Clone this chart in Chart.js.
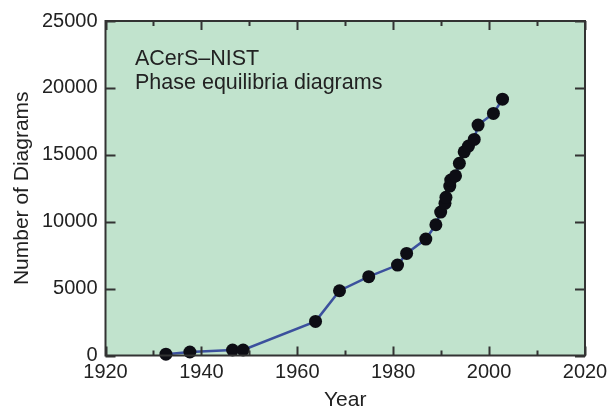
<!DOCTYPE html>
<html>
<head>
<meta charset="utf-8">
<script src="https://cdn.jsdelivr.net/npm/chart.js@4"></script>
<style>
html,body{margin:0;padding:0;background:#fff;}
#wrap{width:608px;height:411px;position:relative;}
</style>
</head>
<body>
<div id="wrap"><canvas id="c" width="608" height="411"></canvas></div>
<script>
const years = [1932.6, 1937.6, 1946.5, 1948.7, 1963.8, 1968.8, 1974.9, 1980.9, 1982.8, 1986.8, 1988.9, 1989.9, 1990.8, 1991.0, 1991.8, 1992.0, 1993.0, 1993.8, 1994.8, 1995.7, 1996.9, 1997.7, 2000.9, 2002.8];
const counts = [100, 260, 410, 410, 2550, 4840, 5890, 6760, 7630, 8700, 9770, 10720, 11370, 11820, 12660, 13110, 13430, 14360, 15220, 15650, 16150, 17220, 18090, 19160];
const xTicks = [1920, 1940, 1960, 1980, 2000, 2020];
const yTicks = [0, 5000, 10000, 15000, 20000, 25000];
const annotationLines = ["ACerS\u2013NIST", "Phase equilibria diagrams"];
const xTitle = "Year";
const yTitle = "Number of Diagrams";

const FONT = '"Liberation Sans", Arial, Helvetica, sans-serif';
const TEXT = '#222222';
const FRAME = '#333333';

const framePlugin = {
  id: 'frame',
  beforeDraw(chart) {
    const {ctx, chartArea: a} = chart;
    ctx.save();
    ctx.fillStyle = 'rgb(193,227,205)';
    ctx.fillRect(a.left, a.top, a.right - a.left, a.bottom - a.top);
    ctx.restore();
  },
  afterDraw(chart) {
    const {ctx, chartArea: a, scales} = chart;
    const xs = scales.x, ys = scales.y;
    ctx.save();
    ctx.strokeStyle = FRAME;
    ctx.lineWidth = 2;
    ctx.strokeRect(a.left, a.top, a.right - a.left, a.bottom - a.top);
    ctx.beginPath();
    for (let v = xs.min; v <= xs.max; v += 10) {
      const px = Math.round(xs.getPixelForValue(v)) + 0.5;
      const len = ((v - xs.min) % 20 === 0) ? 9 : 5;
      ctx.moveTo(px, a.bottom); ctx.lineTo(px, a.bottom - len);
      ctx.moveTo(px, a.top); ctx.lineTo(px, a.top + len);
    }
    yTicks.forEach(v => {
      const py = Math.round(ys.getPixelForValue(v)) + 0.5;
      ctx.moveTo(a.left, py); ctx.lineTo(a.left + 10, py);
      ctx.moveTo(a.right, py); ctx.lineTo(a.right - 10, py);
    });
    ctx.stroke();
    ctx.fillStyle = TEXT;
    ctx.font = '21.5px ' + FONT;
    ctx.textAlign = 'left';
    ctx.textBaseline = 'alphabetic';
    const tx = a.left + 29.5;
    annotationLines.forEach((t, i) => ctx.fillText(t, tx, a.top + 44 + i * 23.5));
    ctx.restore();
  }
};

new Chart(document.getElementById('c'), {
  type: 'line',
  data: {
    datasets: [{
      data: years.map((y, i) => ({x: y, y: counts[i]})),
      borderColor: '#3b509d',
      borderWidth: 2.5,
      pointRadius: 6.5,
      pointBackgroundColor: '#0d0d14',
      pointBorderColor: '#0d0d14',
      pointBorderWidth: 0,
      tension: 0,
      clip: false
    }]
  },
  options: {
    responsive: false,
    animation: false,
    devicePixelRatio: 1,
    layout: {padding: {top: 21, right: 23, left: 0, bottom: 0}},
    plugins: {legend: {display: false}, tooltip: {enabled: false}},
    scales: {
      x: {
        type: 'linear',
        min: xTicks[0], max: xTicks[xTicks.length - 1],
        afterBuildTicks: s => { s.ticks = xTicks.map(v => ({value: v})); },
        afterFit: s => { s.height = 55.5; s.paddingLeft = 0; s.paddingRight = 0; },
        grid: {display: false, drawTicks: false},
        border: {display: false},
        ticks: {color: TEXT, font: {family: FONT, size: 20}, padding: 5, maxRotation: 0, autoSkip: false, callback: v => String(v)},
        title: {display: true, text: xTitle, color: TEXT, font: {family: FONT, size: 21, lineHeight: 1}, padding: {top: 0, bottom: 0}}
      },
      y: {
        type: 'linear',
        min: yTicks[0], max: yTicks[yTicks.length - 1],
        afterBuildTicks: s => { s.ticks = yTicks.map(v => ({value: v})); },
        afterFit: s => { s.width = 105.5; s.paddingTop = 0; s.paddingBottom = 0; },
        grid: {display: false, drawTicks: false},
        border: {display: false},
        ticks: {color: TEXT, font: {family: FONT, size: 20}, padding: 8, autoSkip: false, callback: v => String(v)},
        title: {display: true, text: yTitle, color: TEXT, font: {family: FONT, size: 21, lineHeight: 1}, padding: {top: 12, bottom: 0}}
      }
    }
  },
  plugins: [framePlugin]
});
</script>
</body>
</html>
